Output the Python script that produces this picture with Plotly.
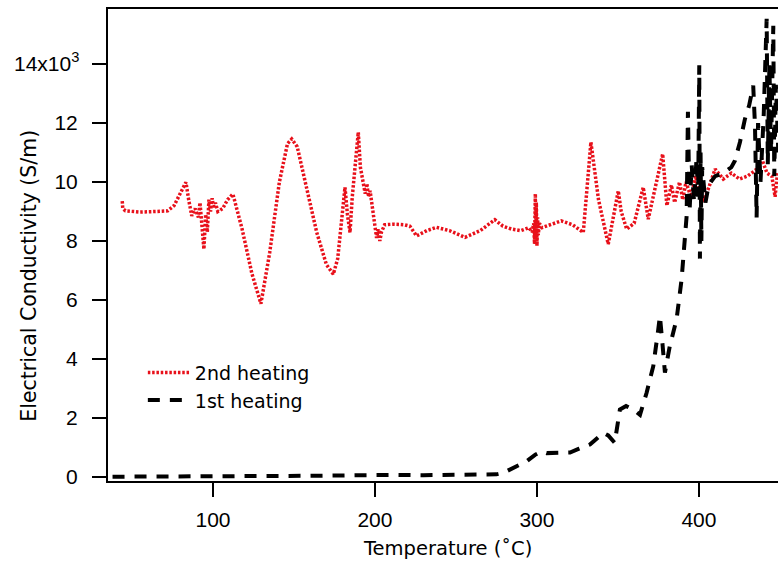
import plotly.graph_objects as go

# 2nd heating (red dotted)
temp_2nd = [44, 44.3, 46, 55, 65, 72, 76, 80, 83.3, 85, 86.9, 89, 91, 92, 93, 94.4, 95.5, 96.5,
            97.5, 98.5, 99.5, 100.5, 101.5, 103, 106, 109, 112.3, 118, 124, 129.6, 135, 141, 146,
            148.6, 152, 158, 164, 170, 174.3, 177, 179, 181.5, 183, 184.6, 186, 189.7, 191, 192.8,
            194, 195, 196, 197, 199, 200, 201, 202, 203, 204, 206, 212, 218, 221.6, 225.7, 232,
            238, 246, 255.6, 265, 274, 279, 284.4, 290, 295, 297, 298, 298.5, 299, 299.3, 299.6,
            300, 300.4, 300.8, 301.5, 303, 306, 315, 322, 328.6, 333.3, 338, 344, 347, 350.2, 352,
            355.4, 360, 365.6, 368.7, 373, 377.6, 380.2, 383, 385, 388, 390, 392, 395, 398, 400,
            403, 406, 410, 415, 420, 425, 430, 435, 438.7, 442, 445, 447, 448.5]
sigma_2nd_k = [9.35, 9.1, 9.02, 8.98, 9.0, 9.02, 9.2, 9.6, 9.99, 9.4, 8.85, 9.1, 8.8, 9.3, 8.7, 7.72,
               8.9, 8.3, 9.4, 9.0, 9.45, 9.1, 9.3, 9.0, 9.1, 9.4, 9.59, 8.4, 6.9, 5.87, 7.6, 10.0,
               11.3, 11.46, 11.2, 9.8, 8.3, 7.2, 6.87, 7.4, 8.6, 9.82, 8.9, 8.29, 9.5, 11.69, 10.5,
               9.99, 9.6, 9.95, 9.5, 9.7, 8.9, 8.4, 8.1, 8.4, 8.0, 8.3, 8.55, 8.57, 8.55, 8.5, 8.17,
               8.35, 8.46, 8.35, 8.12, 8.35, 8.72, 8.5, 8.4, 8.35, 8.45, 8.3, 8.6, 7.9, 9.6, 8.0,
               9.3, 7.83, 8.8, 8.2, 8.6, 8.45, 8.51, 8.68, 8.55, 8.29, 11.35, 9.4, 7.89, 8.8, 9.7,
               9.0, 8.4, 8.6, 9.82, 8.74, 9.8, 10.95, 9.2, 9.9, 9.3, 10.0, 9.4, 10.0, 9.5, 10.2,
               9.6, 9.4, 9.8, 10.44, 10.1, 10.3, 10.1, 10.2, 10.4, 10.8, 10.3, 10.2, 9.5, 10.3]
sigma_2nd = [v * 1000 for v in sigma_2nd_k]

# 1st heating (black dashed)
temp_1st = [38, 50, 70, 100, 130, 160, 190, 200, 210, 230, 260, 275, 279.2, 286, 293.6, 299, 302.9,
            306, 312, 320.4, 326, 332.7, 337, 341, 344, 348, 351.2, 355, 359.4, 363.6, 367.7, 371.8,
            374.9, 375.9, 377.5, 379, 382, 386.2, 389.3, 392.4, 393.2, 394.2, 395.5, 397, 398.5,
            399.5, 400.2, 400.6, 401, 401.5, 402, 404, 406, 410, 415, 420, 422.2, 425.3, 428.4,
            431, 433.5, 434.6, 435.6, 436.5, 438, 440, 441.8, 442.5, 443.5, 444.5, 445.9, 446.5,
            447.5, 449]
sigma_1st_k = [0.0, 0.0, 0.0, 0.02, 0.02, 0.03, 0.05, 0.07, 0.06, 0.05, 0.06, 0.08, 0.13, 0.3, 0.52,
               0.75, 0.86, 0.8, 0.8, 0.82, 0.95, 1.09, 1.3, 1.49, 1.4, 1.15, 2.28, 2.4, 2.28, 2.1,
               2.85, 3.75, 5.0, 5.45, 4.5, 3.53, 4.43, 5.34, 6.7, 8.85, 12.38, 9.0, 10.6, 9.3, 10.8,
               9.5, 13.96, 7.4, 11.0, 8.0, 10.5, 9.3, 9.9, 10.2, 10.3, 10.5, 10.72, 11.35, 12.14,
               12.6, 13.27, 11.9, 8.8, 12.0, 10.0, 12.3, 15.54, 10.6, 14.0, 11.0, 15.3, 10.2, 13.3,
               11.0]
sigma_1st = [v * 1000 for v in sigma_1st_k]

x_ticks = [100, 200, 300, 400]
y_ticks = [0, 2000, 4000, 6000, 8000, 10000, 12000, 14000]
y_tick_text = ["0", "2", "4", "6", "8", "10", "12", ""]
y_top_label = "14x10<sup>3</sup>"

fig = go.Figure()
fig.add_trace(go.Scatter(x=temp_2nd, y=sigma_2nd, mode="lines", name="2nd heating",
                         line=dict(color="#e8101a", width=3.5, dash="2.5px,1.8px")))
fig.add_trace(go.Scatter(x=temp_1st, y=sigma_1st, mode="lines", name="1st heating",
                         line=dict(color="black", width=4, dash="12px,10px")))

fig.update_layout(
    width=778, height=561,
    margin=dict(l=108, r=0, t=9, b=80),
    paper_bgcolor="white", plot_bgcolor="white",
    font=dict(family="Liberation Sans, Arial, sans-serif", size=21, color="black"),
    showlegend=True,
    legend=dict(x=0.052, y=0.270, xanchor="left", yanchor="top", bgcolor="rgba(0,0,0,0)",
                font=dict(family="DejaVu Sans, sans-serif", size=19), itemwidth=42,
                tracegroupgap=0),
    annotations=[
        dict(text="Electrical Conductivity (S/m)", xref="paper", yref="paper",
             x=-0.117, y=0.434, textangle=-90, showarrow=False,
             font=dict(family="DejaVu Sans, sans-serif", size=20.5), xanchor="center", yanchor="middle"),
        dict(text="Temperature (˚C)", xref="paper", yref="paper",
             x=0.507, y=-0.142, showarrow=False,
             font=dict(family="DejaVu Sans, sans-serif", size=19.5), xanchor="center", yanchor="middle"),
        dict(text=y_top_label, xref="paper", yref="y", x=-0.040, y=y_ticks[-1],
             showarrow=False, xanchor="right", yanchor="middle", yshift=2,
             font=dict(family="Liberation Sans, Arial, sans-serif", size=21)),
    ],
)
fig.update_xaxes(range=[35.2, 448.8], tickvals=x_ticks, ticks="outside", ticklen=14, tickwidth=2,
                 tickcolor="black", showline=True, linecolor="black", linewidth=2, mirror=True,
                 showgrid=False, zeroline=False, ticklabelstandoff=5)
fig.update_yaxes(range=[-146, 15870], tickvals=y_ticks, ticktext=y_tick_text, ticks="outside",
                 ticklen=14, tickwidth=2, tickcolor="black", showline=True, linecolor="black",
                 linewidth=2, showgrid=False, zeroline=False, ticklabelstandoff=10)

fig.write_html("out.html", post_script="document.body.style.margin='0';",
               config={"displayModeBar": False})
